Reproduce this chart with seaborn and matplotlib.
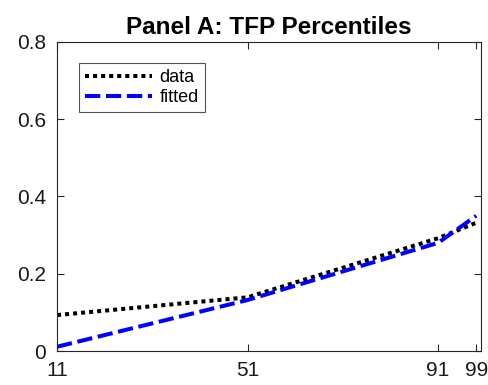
import numpy as np
import pandas as pd
import matplotlib
matplotlib.use("Agg")
import matplotlib.pyplot as plt
import seaborn as sns

percentiles = [11, 51, 91, 99]
data_vals = [0.093, 0.139, 0.292, 0.332]
fitted_vals = [0.011, 0.132, 0.280, 0.350]
x_ticks = [11, 51, 91, 99]
y_ticks = [0, 0.2, 0.4, 0.6, 0.8]
y_tick_labels = ["0", "0.2", "0.4", "0.6", "0.8"]

sns.set_theme(style="white")
plt.rcParams["font.family"] = ["Liberation Sans", "DejaVu Sans"]

df = pd.DataFrame({
    "pct": percentiles * 2,
    "value": data_vals + fitted_vals,
    "series": ["data"] * len(percentiles) + ["fitted"] * len(percentiles),
})

fig = plt.figure(figsize=(4.89, 3.85), dpi=100)
ax = fig.add_axes([0.1166, 0.0883, 0.8670, 0.8027])

sns.lineplot(data=df[df.series == "data"], x="pct", y="value", ax=ax,
             color="black", linewidth=2.9, linestyle=(0, (1, 1)), label="data")
sns.lineplot(data=df[df.series == "fitted"], x="pct", y="value", ax=ax,
             color="#0000ff", linewidth=2.9, linestyle=(0, (3.8, 1.4)), label="fitted")

ax.set_xlim(11, 100)
ax.set_ylim(0, 0.8)
ax.set_xticks(x_ticks)
ax.set_xticklabels([str(t) for t in x_ticks])
ax.set_yticks(y_ticks)
ax.set_yticklabels(y_tick_labels)
ax.set_xlabel("")
ax.set_ylabel("")

axis_col = "#262626"
for s in ax.spines.values():
    s.set_color(axis_col)
    s.set_linewidth(0.8)
ax.tick_params(direction="in", length=5, width=0.8, colors=axis_col,
               labelcolor="#1a1a1a", labelsize=15, top=True, right=True,
               bottom=True, left=True)
ax.tick_params(axis="x", pad=7)
ax.tick_params(axis="y", pad=8)

ax.set_title("Panel A: TFP Percentiles", fontsize=17.5, fontweight="bold",
             color="black", pad=6)

leg = ax.legend(loc="upper left", bbox_to_anchor=(0.052, 0.932), fontsize=13,
                frameon=True, fancybox=False, handlelength=3.7,
                handletextpad=0.4, borderpad=0.35, labelspacing=0.15,
                borderaxespad=0)
leg.get_frame().set_edgecolor(axis_col)
leg.get_frame().set_linewidth(0.8)
for t in leg.get_texts():
    t.set_color("black")

fig.savefig("out.png", dpi=100)
